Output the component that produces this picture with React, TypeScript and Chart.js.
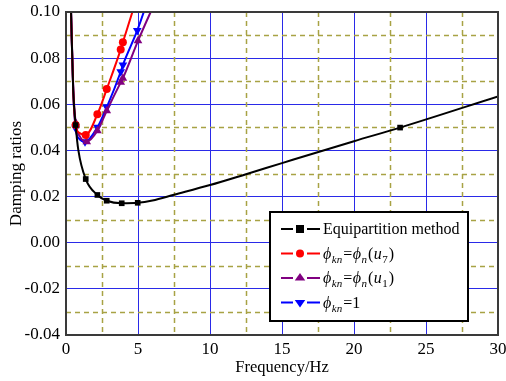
import React, { useEffect, useRef } from "react";
import { Chart, registerables } from "chart.js";

Chart.register(...registerables);

// ---- axis definitions ----
const xMin = 0;
const xMax = 30;
const xStep = 5;
const yMin = -0.04;
const yMax = 0.1;
const yStep = 0.02;
const xMinorGrid = [2.5, 7.5, 12.5, 17.5, 22.5, 27.5];
const yMinorGrid = [-0.03, -0.01, 0.01, 0.03, 0.05, 0.07, 0.09];

const xTitle = "Frequency/Hz";
const yTitle = "Damping ratios";

// ---- series: Equipartition method ----
const eqFreq = [0.35, 0.5, 0.67, 0.86, 1.37, 2.18, 2.83, 3.87, 4.98, 6.0, 7.5, 10, 12.5, 15, 20, 23.2, 30];
const eqDamp = [0.1, 0.066, 0.051, 0.04, 0.0276, 0.0207, 0.0182, 0.0171, 0.0173, 0.0183, 0.0208, 0.025, 0.0297, 0.0345, 0.044, 0.0499, 0.0634];
const eqMarks = [0, 0, 1, 0, 1, 1, 1, 1, 1, 0, 0, 0, 0, 0, 0, 1, 0];

// ---- series: phi_kn = phi_n(u7) ----
const u7Freq = [0.35, 0.5, 0.67, 0.95, 1.37, 2.18, 2.83, 3.8, 3.95, 4.61, 4.9];
const u7Damp = [0.1, 0.066, 0.051, 0.0475, 0.0467, 0.0557, 0.0666, 0.0838, 0.0869, 0.1, 0.106];
const u7Marks = [0, 0, 1, 0, 1, 1, 1, 1, 1, 0, 0];

// ---- series: phi_kn = phi_n(u1) ----
const u1Freq = [0.35, 0.5, 0.67, 0.95, 1.44, 2.18, 2.83, 3.8, 3.95, 5.0, 5.88, 6.1];
const u1Damp = [0.1, 0.068, 0.052, 0.0462, 0.0438, 0.0485, 0.0572, 0.0695, 0.0713, 0.0875, 0.1, 0.103];
const u1Marks = [0, 0, 1, 0, 1, 1, 1, 1, 1, 1, 0, 0];

// ---- series: phi_kn = 1 ----
const oneFreq = [0.35, 0.5, 0.67, 0.95, 1.32, 2.18, 2.83, 3.8, 3.95, 4.95, 5.4, 5.6];
const oneDamp = [0.1, 0.066, 0.0496, 0.0448, 0.0438, 0.05, 0.0587, 0.0741, 0.077, 0.092, 0.1, 0.104];
const oneMarks = [0, 0, 1, 0, 1, 1, 1, 1, 1, 1, 0, 0];

// ---- legend labels (segments: text, italic, subscript) ----
type Seg = { t: string; it?: boolean; sub?: boolean };
const legendEq: Seg[] = [{ t: "Equipartition method" }];
const legendU7: Seg[] = [
  { t: "ϕ", it: true }, { t: "kn", it: true, sub: true }, { t: "=" },
  { t: "ϕ", it: true }, { t: "n", it: true, sub: true }, { t: "(" },
  { t: "u", it: true }, { t: "7", sub: true }, { t: ")" },
];
const legendU1: Seg[] = [
  { t: "ϕ", it: true }, { t: "kn", it: true, sub: true }, { t: "=" },
  { t: "ϕ", it: true }, { t: "n", it: true, sub: true }, { t: "(" },
  { t: "u", it: true }, { t: "1", sub: true }, { t: ")" },
];
const legendOne: Seg[] = [{ t: "ϕ", it: true }, { t: "kn", it: true, sub: true }, { t: "=1" }];

const FONT = "'Liberation Serif', 'DejaVu Serif', 'Times New Roman', serif";

const series = [
  { freq: eqFreq, damp: eqDamp, marks: eqMarks, color: "#000000", style: "rect", r: 4, rot: 0, label: legendEq },
  { freq: u7Freq, damp: u7Damp, marks: u7Marks, color: "#ff0000", style: "circle", r: 4, rot: 0, label: legendU7 },
  { freq: u1Freq, damp: u1Damp, marks: u1Marks, color: "#800080", style: "triangle", r: 5, rot: 0, label: legendU1 },
  { freq: oneFreq, damp: oneDamp, marks: oneMarks, color: "#0000ff", style: "triangle", r: 5, rot: 180, label: legendOne },
];

function drawMarker(ctx: CanvasRenderingContext2D, style: string, rot: number, x: number, y: number, r: number, color: string) {
  ctx.save();
  ctx.fillStyle = color;
  ctx.beginPath();
  if (style === "rect") {
    ctx.rect(x - r, y - r, 2 * r, 2 * r);
  } else if (style === "circle") {
    ctx.arc(x, y, r, 0, Math.PI * 2);
  } else {
    const s = rot === 180 ? -1 : 1;
    const h = r * 1.5;
    ctx.moveTo(x, y - s * h * 0.66);
    ctx.lineTo(x + r * 1.05, y + s * h * 0.34);
    ctx.lineTo(x - r * 1.05, y + s * h * 0.34);
    ctx.closePath();
  }
  ctx.fill();
  ctx.restore();
}

const minorGridPlugin = {
  id: "minorGrid",
  beforeDatasetsDraw(chart: any) {
    const { ctx, chartArea, scales } = chart;
    ctx.save();
    ctx.strokeStyle = "#a8a244";
    ctx.lineWidth = 1.5;
    ctx.setLineDash([5, 4]);
    xMinorGrid.forEach((v) => {
      const px = Math.round(scales.x.getPixelForValue(v)) + 0.5;
      ctx.beginPath();
      ctx.moveTo(px, chartArea.top);
      ctx.lineTo(px, chartArea.bottom);
      ctx.stroke();
    });
    yMinorGrid.forEach((v) => {
      const py = Math.round(scales.y.getPixelForValue(v)) + 0.5;
      ctx.beginPath();
      ctx.moveTo(chartArea.left, py);
      ctx.lineTo(chartArea.right, py);
      ctx.stroke();
    });
    ctx.restore();
  },
};

const frameLegendPlugin = {
  id: "frameLegend",
  afterDatasetsDraw(chart: any) {
    const { ctx, chartArea } = chart;
    ctx.save();
    ctx.strokeStyle = "#3a3a3a";
    ctx.lineWidth = 2;
    ctx.setLineDash([]);
    ctx.strokeRect(chartArea.left, chartArea.top, chartArea.right - chartArea.left, chartArea.bottom - chartArea.top);

    // legend box
    const bw = 198;
    const bh = 109;
    const bx = chartArea.right - 30 - bw;
    const by = chartArea.bottom - 14 - bh;
    ctx.fillStyle = "#ffffff";
    ctx.fillRect(bx, by, bw, bh);
    ctx.strokeStyle = "#000000";
    ctx.lineWidth = 2;
    ctx.strokeRect(bx, by, bw, bh);

    series.forEach((s, i) => {
      const cy = by + 17 + i * 24.5;
      ctx.strokeStyle = s.color;
      ctx.lineWidth = 2;
      ctx.beginPath();
      ctx.moveTo(bx + 11, cy);
      ctx.lineTo(bx + 23, cy);
      ctx.moveTo(bx + 37, cy);
      ctx.lineTo(bx + 50, cy);
      ctx.stroke();
      drawMarker(ctx, s.style, s.rot, bx + 30, cy, s.r, s.color);
      let tx = bx + 53;
      ctx.fillStyle = "#000000";
      ctx.textBaseline = "alphabetic";
      ctx.textAlign = "left";
      const base = cy + 5;
      s.label.forEach((seg) => {
        const size = seg.sub ? 11 : 16;
        ctx.font = `${seg.it ? "italic " : ""}${size}px ${FONT}`;
        const yy = seg.sub ? base + 4 : base;
        ctx.fillText(seg.t, tx, yy);
        tx += ctx.measureText(seg.t).width + (seg.sub ? 1 : 0.5);
      });
    });
    ctx.restore();
  },
};

export default function App() {
  const ref = useRef<HTMLCanvasElement | null>(null);
  useEffect(() => {
    if (!ref.current) return;
    const datasets = series.map((s) => ({
      data: s.freq.map((f, i) => ({ x: f, y: s.damp[i] })),
      borderColor: s.color,
      backgroundColor: s.color,
      borderWidth: 2,
      pointStyle: s.style as any,
      rotation: s.rot,
      pointRadius: (c: any) => (s.marks[c.dataIndex] ? s.r : 0),
      pointHoverRadius: 0,
      pointBorderWidth: 0,
      cubicInterpolationMode: "monotone" as const,
      fill: false,
    }));
    const chart = new Chart(ref.current, {
      type: "line",
      data: { datasets },
      options: {
        animation: false,
        responsive: true,
        maintainAspectRatio: false,
        layout: { padding: { left: 0, right: 8, top: 12, bottom: 0 } },
        plugins: { legend: { display: false }, tooltip: { enabled: false } },
        scales: {
          x: {
            type: "linear",
            min: xMin,
            max: xMax,
            ticks: { stepSize: xStep, color: "#000", font: { family: FONT, size: 17 }, padding: 4, maxRotation: 0 },
            grid: { color: "#2a2ae8", lineWidth: 1, drawTicks: false },
            border: { display: false },
            title: { display: true, text: xTitle, color: "#000", font: { family: FONT, size: 16.5 }, padding: { top: 0, bottom: 3 } },
            afterFit: (sc: any) => {
              sc.height = 46;
              sc.paddingLeft = 0;
              sc.paddingRight = 0;
            },
          },
          y: {
            type: "linear",
            min: yMin,
            max: yMax,
            ticks: {
              stepSize: yStep,
              color: "#000",
              font: { family: FONT, size: 17 },
              padding: 6,
              callback: (v: any) => Number(v).toFixed(2),
            },
            grid: { color: "#2a2ae8", lineWidth: 1, drawTicks: false },
            border: { display: false },
            title: { display: true, text: yTitle, color: "#000", font: { family: FONT, size: 17 }, padding: { top: 6, bottom: 0 } },
            afterFit: (sc: any) => {
              sc.width = 66;
              sc.paddingTop = 0;
              sc.paddingBottom = 0;
            },
          },
        },
      },
      plugins: [minorGridPlugin, frameLegendPlugin],
    });
    return () => chart.destroy();
  }, []);
  return (
    <div style={{ position: "absolute", left: 0, top: 0, width: 506, height: 381, background: "#fff" }}>
      <canvas ref={ref} />
    </div>
  );
}
